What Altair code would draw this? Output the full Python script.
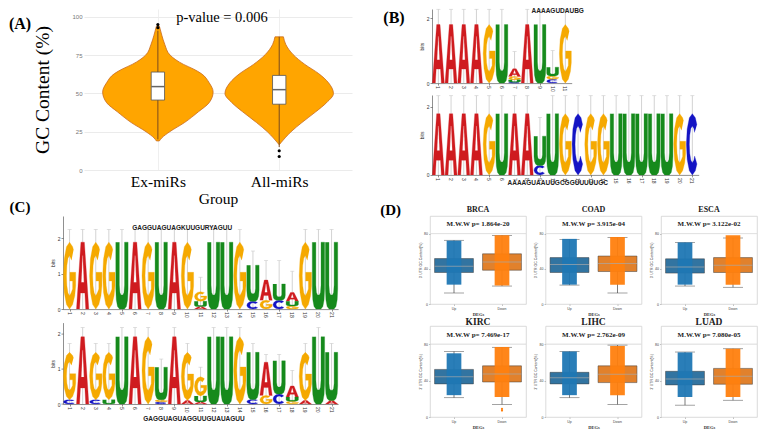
import altair as alt
import pandas as pd

SERIF = "Liberation Serif"
SANS = "Liberation Sans"

# ---------------- Panel A : violin ----------------
a_groups = ["Ex-miRs", "All-miRs"]
ex_gc = [19, 21, 25, 31, 38, 44, 51, 57, 63, 66, 69, 75, 82, 88, 94]
ex_width = [1.5, 4, 12, 27, 41, 52, 56, 52, 44, 36, 26, 12.5, 7, 4, 1.5]
all_gc = [16.5, 18, 21, 25, 31, 38, 44, 50, 57, 63, 69, 75.5, 82, 87]
all_width = [0, 2, 6, 12, 23, 37, 48, 55, 50, 40, 26, 14, 6.7, 4.3]
box_q1 = [45.7, 43.0]
box_med = [54.5, 52.5]
box_q3 = [64.0, 61.8]
box_lo = [20.0, 15.0]
box_hi = [91.0, 87.0]
outlier_grp = [1, 1, 2, 2]
outlier_val = [93.0, 95.0, 12.6, 8.8]
p_value_text = "p-value = 0.006"

# ---------------- Panel B : logos ----------------
b1_letters = [["A"], ["A"], ["A"], ["A"], ["G"], ["U"], ["C", "U", "G", "A"], ["A"], ["U"], ["C", "G", "U"], ["G"]]
b1_heights = [[1.8], [1.8], [1.8], [1.8], [1.8], [1.8], [0.03, 0.07, 0.1, 0.24], [1.8], [1.8], [0.12, 0.1, 0.27], [1.8]]
b1_err = [2.27, 2.27, 2.27, 2.27, 2.27, 2.27, 0.97, 2.27, 2.27, 1.0, 2.27]
b1_consensus = "AAAAGUDAUBG"

b2_letters = [["A"], ["A"], ["A"], ["A"], ["G"], ["U"], ["A"], ["A"], ["C", "U"], ["U"], ["G"], ["C"],
              ["G"], ["G"], ["U"], ["U"], ["U"], ["U"], ["U"], ["G"], ["C"]]
b2_heights = [[1.8], [1.8], [1.8], [1.8], [1.8], [1.8], [1.8], [1.8], [0.28, 0.86], [1.8], [1.8], [1.8],
              [1.8], [1.8], [1.8], [1.8], [1.8], [1.8], [1.8], [1.8], [1.8]]
b2_err = [2.33, 2.33, 2.33, 2.33, 2.33, 2.33, 2.33, 2.33, 1.69, 2.33, 2.33, 2.33,
          2.33, 2.33, 2.33, 2.33, 2.33, 2.33, 2.33, 2.33, 2.33]
b2_consensus = "AAAAGUAAUUGCGGUUUUUGC"

# ---------------- Panel C : logos ----------------
c1_letters = [["G"], ["A"], ["G"], ["G"], ["U"], ["A"], ["G"], ["U"], ["A"], ["G"], ["A", "U", "G"],
              ["U"], ["U"], ["G"], ["C", "U"], ["G", "A"], ["C", "U"], ["G", "U", "A"], ["G"], ["U"], ["U"]]
c1_heights = [[1.89], [1.89], [1.89], [1.89], [1.89], [1.89], [1.89], [1.89], [1.89], [1.89], [0.07, 0.15, 0.27],
              [1.89], [1.89], [1.89], [0.22, 1.02], [0.25, 0.57], [0.25, 0.46], [0.09, 0.13, 0.25], [1.89], [1.89], [1.89]]
c1_err = [2.25, 2.25, 2.25, 2.25, 2.25, 2.25, 2.25, 2.25, 2.25, 2.25, 0.9,
          2.25, 2.25, 2.25, 1.64, 1.37, 1.37, 1.07, 2.25, 2.25, 2.25]
c1_consensus = "GAGGUAGUAGKUUGURYAGUU"

c2_letters = [["C", "G"], ["A"], ["C", "G"], ["U", "G"], ["U"], ["A"], ["G"], ["C", "G", "U"], ["A"], ["A", "G"],
              ["A", "U", "G"], ["U"], ["U"], ["G"], ["C", "U"], ["G", "A"], ["C", "U"], ["G", "U", "A"],
              ["A", "G"], ["U"], ["A", "U"]]
c2_heights = [[0.12, 1.34], [1.9], [0.12, 1.34], [0.12, 1.34], [1.9], [1.9], [1.9], [0.06, 0.06, 0.92], [1.9],
              [0.1, 1.36], [0.06, 0.17, 0.54], [1.9], [1.9], [1.9], [0.13, 1.33], [0.24, 0.94], [0.28, 0.94],
              [0.08, 0.12, 0.31], [0.1, 1.36], [1.9], [0.1, 1.36]]
c2_err = [1.71, 2.16, 1.71, 1.71, 2.16, 2.16, 2.16, 1.27, 2.16, 1.71, 1.04, 2.16, 2.16, 2.16, 1.71, 1.4, 1.4,
          0.95, 1.71, 2.16, 1.71]
c2_consensus = "GAGGUAGUAGGUUGUAUAGUU"

NUC = ["A", "C", "G", "U"]
NUC_COLORS = ["#CF1B1F", "#1414C4", "#F5A900", "#168A1C"]

# Letter glyph outlines in a unit box (u across -1..1, v up 0..1), like a font's outlines
GLYPHS = {
    "A": [[(-1, 0), (-0.28, 1), (0.28, 1), (1, 0), (0.5, 0), (0.36, 0.24), (-0.36, 0.24), (-0.5, 0)]],
    "C": [[(0.766, 0.821), (0.5, 0.933), (0, 1), (-0.5, 0.933), (-0.866, 0.75), (-1, 0.5), (-0.866, 0.25),
           (-0.5, 0.067), (0, 0), (0.5, 0.067), (0.766, 0.179), (0.383, 0.307), (0.25, 0.24), (0, 0.2),
           (-0.25, 0.24), (-0.433, 0.35), (-0.5, 0.5), (-0.433, 0.65), (-0.25, 0.76), (0, 0.8), (0.25, 0.76),
           (0.383, 0.693)]],
    "G": [[(0.643, 0.883), (0.5, 0.933), (0, 1), (-0.5, 0.933), (-0.866, 0.75), (-1, 0.5), (-0.866, 0.25),
           (-0.5, 0.067), (0, 0), (0.5, 0.067), (0.85, 0.2), (1, 0.35), (1, 0.55), (0.05, 0.55), (0.05, 0.42),
           (0.5, 0.42), (0.5, 0.3), (0.25, 0.24), (0, 0.2), (-0.25, 0.24), (-0.433, 0.35), (-0.5, 0.5),
           (-0.433, 0.65), (-0.25, 0.76), (0, 0.8), (0.32, 0.73)]],
    "U": [[(-1, 1), (-1, 0.3), (-0.92, 0.14), (-0.72, 0.04), (-0.4, 0), (0.4, 0), (0.72, 0.04), (0.92, 0.14),
           (1, 0.3), (1, 1), (0.42, 1), (0.42, 0.36), (0.33, 0.25), (0.15, 0.21), (-0.15, 0.21), (-0.33, 0.25),
           (-0.42, 0.36), (-0.42, 1)]],
}
GLYPH_HOLES = {"A": [[(-0.19, 0.4), (0, 0.8), (0.19, 0.4)]]}

# ---------------- Panel D : boxplots ----------------
d_panels = ["BRCA", "COAD", "ESCA", "KIRC", "LIHC", "LUAD"]
d_pvals = ["1.864e-20", "3.915e-04", "3.122e-02", "7.469e-17", "2.762e-09", "7.080e-05"]
up_lo = [12.5, 21.5, 20.4, 21.2, 21.2, 13.0]
up_q1 = [35.8, 35.8, 35.1, 36.4, 36.4, 35.3]
up_med = [43.0, 44.8, 42.0, 44.2, 43.0, 41.7]
up_q3 = [51.6, 52.7, 51.3, 52.3, 49.1, 50.2]
up_hi = [72.4, 73.5, 70.0, 72.0, 72.0, 71.4]
dn_lo = [20.4, 12.5, 19.0, 13.8, 13.8, 18.4]
dn_q1 = [38.4, 36.9, 35.8, 38.5, 37.8, 36.0]
dn_med = [47.7, 45.9, 44.0, 47.3, 47.0, 44.9]
dn_q3 = [57.0, 54.5, 52.7, 56.2, 56.2, 53.4]
dn_hi = [78.0, 75.6, 75.0, 76.6, 79.0, 75.0]
up_cloud_lo = [22, 22, 22, 24, 24, 22]
up_cloud_hi = [72, 74, 70, 70, 72, 71]
dn_cloud_lo = [21, 22, 22, 22, 24, 22]
dn_cloud_hi = [78, 76, 78, 77, 78, 75]
d_outlier_panel = ["KIRC", "KIRC"]
d_outlier_val = [8.8, 7.1]


def label_text(txt, x, y, size=16):
    return alt.Chart(pd.DataFrame({"t": [txt]})).mark_text(
        font=SERIF, fontWeight="bold", fontSize=size, align="center", baseline="middle", color="black"
    ).encode(text="t:N", x=alt.value(x), y=alt.value(y))


def label_chart(txt, y, size=16):
    return label_text(txt, 11, y, size).properties(width=22, height=1)


# ---------- A ----------
def panel_a():
    rows = []
    for g, gi, gcs, ws in [(a_groups[0], 1, ex_gc, ex_width), (a_groups[1], 2, all_gc, all_width)]:
        for v, w in zip(gcs, ws):
            rows.append({"g": g, "gi": gi, "gc": v, "w": w})
    vdf = pd.DataFrame(rows)
    xs = alt.Scale(domain=[0.391, 2.60], nice=False, zero=False)
    ys = alt.Scale(domain=[0, 105.2], nice=False)
    xaxis = alt.Axis(values=[1, 2], labelExpr="datum.value == 1 ? 'Ex-miRs' : 'All-miRs'",
                     labelFont=SERIF, labelFontSize=15.5, labelColor="black", labelPadding=4,
                     ticks=False, domain=False, grid=True, gridColor="#efefef",
                     title="Group", titleFont=SERIF, titleFontSize=15.5, titleFontWeight="normal",
                     titlePadding=2, titleColor="black")
    yaxis = alt.Axis(values=[0, 25, 50, 75, 100], labelFontSize=6, labelColor="#777", labelPadding=2,
                     ticks=False, domain=False, grid=True, gridColor="#ebebeb",
                     title="GC Content (%)", titleFont=SERIF, titleFontSize=19.5, titleFontWeight="normal",
                     titlePadding=19, titleColor="black")
    violin = alt.Chart(vdf).transform_calculate(
        xl="datum.gi - datum.w / 123", xr="datum.gi + datum.w / 123"
    ).mark_area(orient="horizontal", interpolate="monotone", fill="#FFA500", stroke="#C8691E",
                strokeWidth=0.8).encode(
        y=alt.Y("gc:Q", scale=ys, axis=yaxis),
        x=alt.X("xl:Q", scale=xs, axis=xaxis),
        x2="xr:Q",
        detail="g:N",
    )
    bdf = pd.DataFrame({"gi": [1, 2], "q1": box_q1, "med": box_med, "q3": box_q3, "lo": box_lo, "hi": box_hi})
    whisk = alt.Chart(bdf).mark_rule(color="#7a4b1e", strokeWidth=1).encode(x="gi:Q", y="lo:Q", y2="hi:Q")
    box = alt.Chart(bdf).transform_calculate(bl="datum.gi - 0.055", br="datum.gi + 0.055").mark_rect(
        fill="white", stroke="#555555", strokeWidth=0.8).encode(x="bl:Q", x2="br:Q", y="q1:Q", y2="q3:Q")
    med = alt.Chart(bdf).transform_calculate(bl="datum.gi - 0.055", br="datum.gi + 0.055").mark_rule(
        color="#666666", strokeWidth=1.5).encode(x="bl:Q", x2="br:Q", y="med:Q")
    odf = pd.DataFrame({"gi": outlier_grp, "v": outlier_val})
    outl = alt.Chart(odf).mark_circle(size=10, color="black", opacity=1).encode(x="gi:Q", y="v:Q")
    ptxt = alt.Chart(pd.DataFrame({"t": [p_value_text]})).mark_text(
        font=SERIF, fontSize=14.5, baseline="middle", color="black").encode(
        text="t:N", x=alt.datum(1.528), y=alt.datum(99.0))
    return alt.layer(violin, whisk, box, med, outl, ptxt).properties(width=268, height=161)


# ---------- logos ----------
def glyph_table(letters, heights, holes):
    src = GLYPH_HOLES if holes else GLYPHS
    rows = []
    for p, (ls, hs) in enumerate(zip(letters, heights), start=1):
        base = 0.0
        for k, (l, h) in enumerate(zip(ls, hs)):
            for j, poly in enumerate(src.get(l, [])):
                for vi, (u, v) in enumerate(poly):
                    rows.append({"pos": p, "nuc": l, "y0": base, "h": h, "u": u, "v": v, "vi": vi,
                                 "gid": "%d_%d_%d" % (p, k, j)})
            base += h
    return pd.DataFrame(rows, columns=["pos", "nuc", "y0", "h", "u", "v", "vi", "gid"])


def logo(letters, heights, err_tops, consensus, cons_x, cons_y, step, ppb, ymax, label=None):
    n = len(letters)
    edf = pd.DataFrame({"pos": list(range(1, n + 1)), "top": err_tops})
    xs = alt.Scale(domain=[0.5, n + 0.5], nice=False, zero=False)
    ys = alt.Scale(domain=[0, ymax], nice=False)
    plot_h = ppb * ymax
    xaxis = alt.Axis(values=list(range(1, n + 1)), labels=False,
                     tickSize=2, tickColor="#444", domainColor="#444", domainWidth=0.6, tickWidth=0.6,
                     title=None, grid=False)
    yaxis = alt.Axis(values=[0, 1, 2], labelFontSize=5, tickSize=2, tickColor="#444", domainColor="#444",
                     labelOverlap=False, domainWidth=0.6, tickWidth=0.6, title="bits", titleFontSize=5,
                     titleFontWeight="normal", titlePadding=2, grid=False, labelPadding=1,
                     labelColor="#333", titleColor="#333")
    err = alt.Chart(edf).transform_calculate(zero="0").mark_rule(color="#c8c8c8", strokeWidth=0.8).encode(
        x=alt.X("pos:Q", scale=xs, axis=xaxis),
        y=alt.Y("top:Q", scale=ys, axis=yaxis),
        y2="zero:Q",
    )
    caps = alt.Chart(edf).mark_tick(orient="horizontal", size=4, thickness=0.8, color="#c8c8c8").encode(
        x="pos:Q", y="top:Q")
    poslab = alt.Chart(edf).mark_text(angle=90, align="left", baseline="middle", fontSize=5,
                                      color="#333").encode(
        x="pos:Q", y=alt.value(plot_h + 3), text="pos:N")
    layers = [err, caps]
    gdf = glyph_table(letters, heights, False)
    hdf = glyph_table(letters, heights, True)
    calc = dict(gx="datum.pos + datum.u * 0.47", gy="datum.y0 + datum.v * datum.h")
    for nuc, col in zip(NUC, NUC_COLORS):
        sub = gdf[gdf["nuc"] == nuc]
        if len(sub):
            layers.append(alt.Chart(sub).transform_calculate(**calc).mark_line(
                fill=col, stroke=col, strokeWidth=0.3, interpolate="linear").encode(
                x="gx:Q", y="gy:Q", detail="gid:N", order="vi:Q"))
    if len(hdf):
        layers.append(alt.Chart(hdf).transform_calculate(**calc).mark_line(
            fill="white", stroke="white", strokeWidth=0.2, interpolate="linear").encode(
            x="gx:Q", y="gy:Q", detail="gid:N", order="vi:Q"))
    cons = alt.Chart(pd.DataFrame({"t": [consensus]})).mark_text(
        font=SANS, fontWeight="bold", fontSize=6.5, color="#222", baseline="middle").encode(
        text="t:N", x=alt.datum(cons_x), y=alt.datum(cons_y))
    layers += [poslab, cons]
    if label is not None:
        layers.append(label)
    return alt.layer(*layers).properties(width=step * n, height=plot_h)


# ---------- D panels ----------
PW = 96


def d_panel(i, height, title_size, title_dy, mww_y, label=None):
    df = pd.DataFrame({
        "grp": ["Up", "Down"],
        "lo": [up_lo[i], dn_lo[i]], "q1": [up_q1[i], dn_q1[i]], "med": [up_med[i], dn_med[i]],
        "q3": [up_q3[i], dn_q3[i]], "hi": [up_hi[i], dn_hi[i]],
        "clo": [up_cloud_lo[i], dn_cloud_lo[i]], "chi": [up_cloud_hi[i], dn_cloud_hi[i]],
    })
    ys = alt.Scale(domain=[0, 100], nice=False)
    xaxis = alt.Axis(labelAngle=0, labelFontSize=3.5, labelPadding=1, tickSize=1.5, tickWidth=0.5,
                     tickColor="#888", domain=False, title="DEGs", titleFont=SERIF, titleFontWeight="bold",
                     titleFontSize=4.5, titlePadding=1, labelColor="#444", titleColor="#333")
    yaxis = alt.Axis(values=[0, 20, 40, 60, 80, 100], labelFontSize=3.5, labelPadding=1, tickSize=1.5,
                     tickWidth=0.5, tickColor="#888", domain=False, grid=False,
                     title="3' UTR GC Content(%)", titleFontSize=3.5, titlePadding=1.5,
                     titleFontWeight="normal", labelColor="#444", titleColor="#333")
    x = alt.X("grp:N", sort=["Up", "Down"], scale=alt.Scale(paddingInner=0.1, paddingOuter=0.05), axis=xaxis)
    base = alt.Chart(df)
    line80 = base.mark_rule(color="#dcdcdc", strokeWidth=0.6).encode(y=alt.datum(80))
    whisk = base.mark_rule(color="#444", strokeWidth=0.7).encode(
        x=x, y=alt.Y("lo:Q", scale=ys, axis=yaxis), y2="hi:Q")
    cap_lo = base.mark_tick(color="#444", size=20, thickness=0.7).encode(x=x, y="lo:Q")
    cap_hi = base.mark_tick(color="#444", size=20, thickness=0.7).encode(x=x, y="hi:Q")
    box = base.mark_bar(width={"band": 0.9}, stroke="#3d3d3d", strokeWidth=0.5).encode(
        x=x, y="q1:Q", y2="q3:Q",
        color=alt.condition("datum.grp == 'Up'", alt.value("#3274A1"), alt.value("#E1812C")))
    cloud = base.mark_bar(width={"band": 0.34}, opacity=0.95).encode(
        x=x, y="clo:Q", y2="chi:Q",
        color=alt.condition("datum.grp == 'Up'", alt.value("#1F77B4"), alt.value("#FF7F0E")))
    med = base.mark_tick(color="#a8a8a8", size=39, thickness=1).encode(x=x, y="med:Q")
    odf = pd.DataFrame({"panel": d_outlier_panel, "v": d_outlier_val, "grp": ["Down"] * len(d_outlier_val)})
    odf = odf[odf["panel"] == d_panels[i]]
    layers = [line80, whisk, cap_lo, cap_hi, box, cloud, med]
    if len(odf):
        layers.append(alt.Chart(odf).mark_circle(size=5, color="#FF7F0E", opacity=1).encode(x=x, y="v:Q"))
    mww = alt.Chart(pd.DataFrame({"t": ["M.W.W p= " + d_pvals[i]]})).mark_text(
        font=SERIF, fontWeight="bold", fontSize=7, color="#222", baseline="middle").encode(
        text="t:N", x=alt.value(PW / 2), y=alt.datum(mww_y))
    ttl = alt.Chart(pd.DataFrame({"t": [d_panels[i]]})).mark_text(
        font=SERIF, fontWeight="bold", fontSize=title_size, color="#222", baseline="middle").encode(
        text="t:N", x=alt.value(PW / 2), y=alt.value(title_dy))
    layers += [mww, ttl]
    if label is not None:
        layers.append(label)
    return alt.layer(*layers).properties(
        width=PW, height=height,
        view=alt.ViewBackground(stroke="#d2d2d2", strokeWidth=0.8))


A = panel_a()
B1 = logo(b1_letters, b1_heights, b1_err, b1_consensus, 10.4, 2.21, 12.7, 32.5, 2.28,
          label=label_text("(B)", -38, 9))
B2 = logo(b2_letters, b2_heights, b2_err, b2_consensus, 10.4, -0.25, 12.7, 34, 2.35)
C1 = logo(c1_letters, c1_heights, c1_err, c1_consensus, 9.6, 2.29, 13.1, 35.4, 2.63)
C2 = logo(c2_letters, c2_heights, c2_err, c2_consensus, 10.5, -0.41, 13.1, 35.4, 2.3)

D_row1 = alt.hconcat(d_panel(0, 88, 8, -6.3, 90.5, label=label_text("(D)", -39.4, -6.3, 15)),
                     d_panel(1, 88, 8, -6.3, 90.5), d_panel(2, 88, 8, -6.3, 90.5), spacing=5.5)
D_row2 = alt.hconcat(d_panel(3, 91, 9.5, -3.9, 90), d_panel(4, 91, 9.5, -3.9, 90),
                     d_panel(5, 91, 9.5, -3.9, 90), spacing=5.5)
D = alt.vconcat(D_row1, D_row2, spacing=0)

left_top = alt.hconcat(label_chart("(A)", 15), A, spacing=0)
left_bottom = alt.hconcat(label_chart("(C)", -9.2, 15), alt.vconcat(C1, C2, spacing=4.6), spacing=19)

top_row = alt.hconcat(left_top, alt.vconcat(B1, B2, spacing=3), spacing=31)
bottom_row = alt.hconcat(left_bottom, D, spacing=40)

chart = alt.concat(top_row, bottom_row, columns=1, align="none", spacing=-8).properties(
    padding=0, background="white"
).configure(font=SANS).configure_view(stroke=None)

chart.save("out.html", embed_options={"renderer": "svg", "actions": False})
